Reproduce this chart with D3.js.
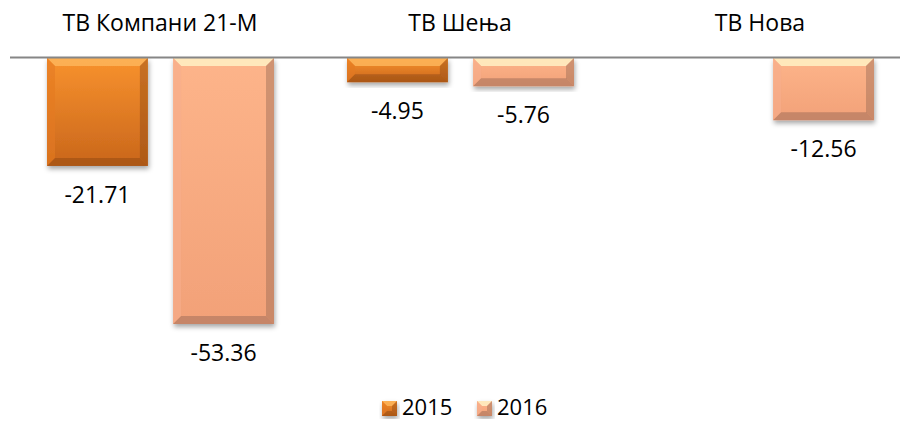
<!DOCTYPE html>
<html lang="sr">
<head>
<meta charset="UTF-8">
<title>ТВ</title>
<script src="https://d3js.org/d3.v7.min.js"></script>
<style>
    body { margin: 0; background: #fff; }
    svg { display: block; font-family: "Open Sans", "Noto Sans", sans-serif; }
    .label { font-size: 23px; fill: #000; }
    .legend { font-size: 22px; fill: #000; }
</style>
</head>
<body>
<svg id="chart" width="900" height="421"></svg>
<script>
    const categories = ["ТВ Компани 21-М", "ТВ Шења", "ТВ Нова"];
    const seriesNames = ["2015", "2016"];
    const values2015 = [-21.71, -4.95, null];
    const values2016 = [-53.36, -5.76, -12.56];

    const width = 900, height = 421;
    const svg = d3.select("#chart");
    const defs = svg.append("defs");

    const palette = {
        "2015": { top: "#f8922e", bottom: "#c9661b", light: "#fdb55a", dark: "#8f4a14", side: "#e47a22" },
        "2016": { top: "#fdb48a", bottom: "#f2a178", light: "#fff1c4", dark: "#9a6a55", side: "#f7ae8c" }
    };

    seriesNames.forEach(s => {
        const g = defs.append("linearGradient").attr("id", "grad" + s)
            .attr("x1", 0).attr("y1", 0).attr("x2", 0).attr("y2", 1);
        g.append("stop").attr("offset", 0).attr("stop-color", palette[s].top);
        g.append("stop").attr("offset", 1).attr("stop-color", palette[s].bottom);
    });

    const shadow = defs.append("filter").attr("id", "shadow")
        .attr("x", "-20%").attr("y", "-20%").attr("width", "140%").attr("height", "140%");
    shadow.append("feDropShadow").attr("dx", 1).attr("dy", 3).attr("stdDeviation", 2.5)
        .attr("flood-color", "#000").attr("flood-opacity", 0.35);

    const x0 = d3.scaleBand().domain(categories).range([10, 910]);
    const x1 = d3.scaleBand().domain(seriesNames).range([37, 264]).paddingInner(0.2);
    const y = d3.scaleLinear().domain([0, -53.36]).range([57.5, 324]);

    const rows = [];
    categories.forEach((c, i) => {
        rows.push({ cat: c, s: "2015", v: values2015[i] });
        rows.push({ cat: c, s: "2016", v: values2016[i] });
    });

    function drawBar(g, x, yTop, w, h, s, bev) {
        const p = palette[s];
        const b = Math.min(bev || 8, h / 2);
        const grp = g.append("g").attr("filter", "url(#shadow)");
        grp.append("rect").attr("x", x).attr("y", yTop).attr("width", w).attr("height", h)
            .attr("fill", "url(#grad" + s + ")");
        const x2 = x + w, y2 = yTop + h;
        const poly = (pts, fill, op) => grp.append("polygon")
            .attr("points", pts.map(d => d.join(",")).join(" "))
            .attr("fill", fill).attr("opacity", op);
        poly([[x, yTop], [x2, yTop], [x2 - b, yTop + b], [x + b, yTop + b]], p.light, 0.85);
        poly([[x, yTop], [x + b, yTop + b], [x + b, y2 - b], [x, y2]], p.side, 0.6);
        poly([[x2, yTop], [x2, y2], [x2 - b, y2 - b], [x2 - b, yTop + b]], p.dark, 0.45);
        poly([[x, y2], [x + b, y2 - b], [x2 - b, y2 - b], [x2, y2]], p.dark, 0.5);
    }

    const barLayer = svg.append("g");
    rows.filter(d => d.v !== null).forEach(d => {
        const bx = x0(d.cat) + x1(d.s);
        const yTop = y(0) + 0.5;
        const h = y(d.v) - yTop;
        drawBar(barLayer, bx, yTop, x1.bandwidth(), h, d.s);
        svg.append("text").attr("class", "label")
            .attr("x", bx + x1.bandwidth() / 2)
            .attr("y", y(d.v) + 37)
            .attr("text-anchor", "middle")
            .text(d.v.toFixed(2));
    });

    // zero axis
    svg.append("line").attr("x1", 10).attr("x2", 900)
        .attr("y1", y(0)).attr("y2", y(0))
        .attr("stroke", "#868686").attr("stroke-width", 2);

    // category labels at top
    svg.append("g").selectAll("text").data(categories).join("text")
        .attr("class", "label")
        .attr("x", d => x0(d) + x0.bandwidth() / 2)
        .attr("y", 31)
        .attr("text-anchor", "middle")
        .text(d => d);

    // legend
    const legend = svg.append("g");
    const legendX = [382, 477];
    seriesNames.forEach((s, i) => {
        drawBar(legend, legendX[i], 401, 15, 15, s, 5);
        legend.append("text").attr("class", "legend")
            .attr("x", legendX[i] + 20).attr("y", 415)
            .text(s);
    });
</script>
</body>
</html>
